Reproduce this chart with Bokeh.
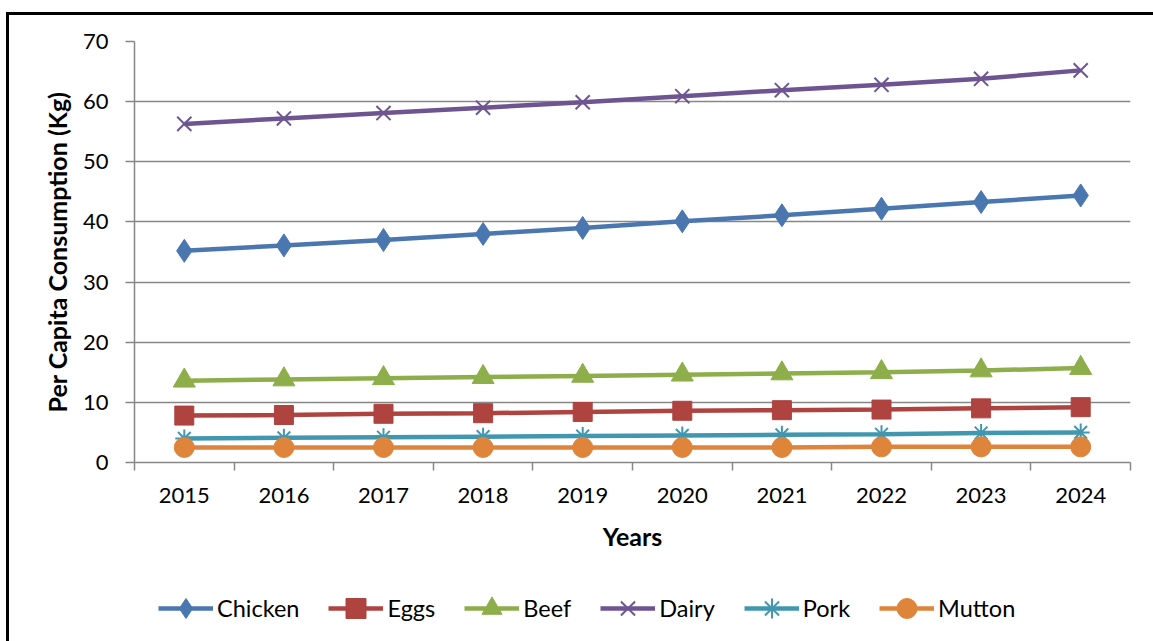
from bokeh.plotting import figure
from bokeh.layouts import column
from bokeh.models import Range1d, FixedTicker, Legend, LegendItem
from bokeh.embed import file_html
from bokeh.resources import INLINE

years = ["2015", "2016", "2017", "2018", "2019", "2020", "2021", "2022", "2023", "2024"]
chicken = [35.2, 36.1, 37.0, 38.0, 39.0, 40.1, 41.1, 42.2, 43.3, 44.4]
eggs = [7.8, 7.9, 8.1, 8.2, 8.4, 8.6, 8.7, 8.8, 9.0, 9.2]
beef = [13.6, 13.8, 14.0, 14.2, 14.4, 14.6, 14.8, 15.0, 15.3, 15.7]
dairy = [56.3, 57.2, 58.1, 59.0, 59.9, 60.9, 61.9, 62.8, 63.8, 65.2]
pork = [4.0, 4.1, 4.2, 4.3, 4.4, 4.5, 4.6, 4.7, 4.9, 5.0]
mutton = [2.5, 2.5, 2.5, 2.5, 2.5, 2.5, 2.5, 2.6, 2.6, 2.6]
y_ticks = [0, 10, 20, 30, 40, 50, 60, 70]

FONT = "Lato"
GRID = "#878787"
W = 1144

x = [i + 0.5 for i in range(len(years))]

p = figure(width=W, height=560, output_backend="svg", toolbar_location=None,
           x_range=Range1d(0, len(years)), y_range=Range1d(0, 70),
           min_border_left=125, min_border_right=W - 1121, min_border_top=26,
           min_border_bottom=113)
p.outline_line_color = None
p.background_fill_color = "white"
p.border_fill_color = "white"

p.xgrid.grid_line_color = None
p.ygrid.grid_line_color = GRID
p.ygrid.grid_line_width = 1.5
p.ygrid.ticker = FixedTicker(ticks=y_ticks)

ya = p.yaxis[0]
ya.ticker = FixedTicker(ticks=y_ticks)
ya.axis_line_color = GRID
ya.axis_line_width = 1.5
ya.major_tick_line_color = GRID
ya.major_tick_line_width = 1.5
ya.major_tick_out = 9
ya.major_tick_in = 0
ya.minor_tick_line_color = None
ya.major_label_standoff = 17
ya.major_label_text_font = FONT
ya.major_label_text_font_size = "22px"
ya.major_label_text_color = "black"
ya.axis_label = "Per Capita Consumption (Kg)"
ya.axis_label_text_font = FONT
ya.axis_label_text_font_size = "25px"
ya.axis_label_text_font_style = "bold"
ya.axis_label_text_color = "black"
ya.axis_label_standoff = 8

xa = p.xaxis[0]
xa.ticker = FixedTicker(ticks=x, minor_ticks=list(range(len(years) + 1)))
xa.major_label_overrides = {xx: yy for xx, yy in zip(x, years)}
xa.axis_line_color = GRID
xa.axis_line_width = 1.5
xa.major_tick_line_color = None
xa.major_tick_out = 0
xa.major_tick_in = 0
xa.minor_tick_line_color = GRID
xa.minor_tick_line_width = 1.5
xa.minor_tick_out = 8
xa.minor_tick_in = 0
xa.major_label_standoff = 17
xa.major_label_text_font = FONT
xa.major_label_text_font_size = "22px"
xa.major_label_text_color = "black"
xa.axis_label = "Years"
xa.axis_label_text_font = FONT
xa.axis_label_text_font_size = "25px"
xa.axis_label_text_font_style = "bold"
xa.axis_label_text_color = "black"
xa.axis_label_standoff = 15

series = [
    ("Chicken", chicken, "#4A77B0", dict(marker="diamond", size=23)),
    ("Eggs", eggs, "#AE4340", dict(marker="square", size=19)),
    ("Beef", beef, "#8DAE4A", dict(marker="triangle", size=22)),
    ("Dairy", dairy, "#6E5592", dict(marker="x", size=20, line_width=2)),
    ("Pork", pork, "#4297B0", dict(marker="asterisk", size=18, line_width=2)),
    ("Mutton", mutton, "#DF843B", dict(marker="circle", size=20)),
]

# legend strip: same series drawn in a figure whose visible range holds no data,
# so only the legend entries show
q = figure(width=W, height=66, output_backend="svg", toolbar_location=None,
           x_range=Range1d(0, len(years)), y_range=Range1d(1000, 1001),
           min_border=0)
q.axis.visible = False
q.grid.visible = False
q.outline_line_color = None
q.border_fill_color = "white"

items = []
for name, vals, color, mk in series:
    p.line(x, vals, line_color=color, line_width=4.5)
    p.scatter(x, vals, fill_color=color, line_color=color, **mk)
    ln = q.line(x, vals, line_color=color, line_width=4.5)
    sc = q.scatter(x, vals, fill_color=color, line_color=color, **mk)
    items.append(LegendItem(label=name, renderers=[ln, sc]))

legend = Legend(items=items, orientation="horizontal", location=(24, 8),
                glyph_width=55, glyph_height=50, label_height=22,
                label_standoff=4, spacing=29, padding=0, margin=0,
                border_line_color=None, background_fill_alpha=0,
                label_text_font=FONT, label_text_font_size="23.5px",
                label_text_color="black")
q.add_layout(legend)

layout = column(p, q, spacing=0)
layout.margin = (12, 0, 0, 6)
layout.styles = {"border-top": "3px solid black", "border-left": "3px solid black"}

open("out.html", "w").write(file_html(layout, INLINE, "chart"))
